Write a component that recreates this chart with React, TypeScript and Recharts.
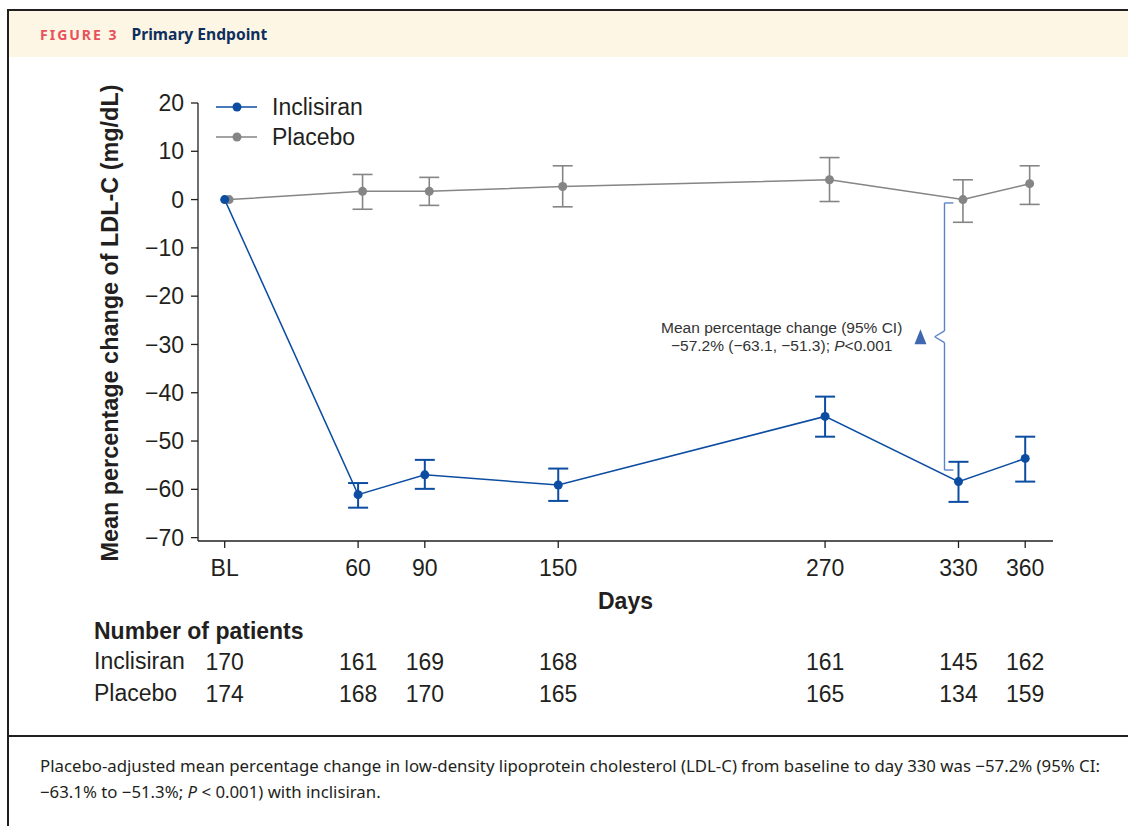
import React from 'react';
import { LineChart, Line, XAxis, YAxis, ErrorBar, ReferenceLine, ReferenceDot, Label } from 'recharts';

// visits (BL = day 0)
const DAYS = [0, 60, 90, 150, 270, 330, 360];
const DAY_LABELS = ['BL', '60', '90', '150', '270', '330', '360'];

// mean % change with 95% CI
const INCLISIRAN_MEAN = [0, -61.1, -57.0, -59.1, -44.9, -58.4, -53.6];
const INCLISIRAN_LOW = [null, -63.8, -59.9, -62.4, -49.1, -62.6, -58.4];
const INCLISIRAN_HIGH = [null, -58.7, -53.9, -55.7, -40.8, -54.3, -49.1];

const PLACEBO_MEAN = [0, 1.7, 1.7, 2.7, 4.1, 0, 3.3];
const PLACEBO_LOW = [null, -2.0, -1.2, -1.5, -0.4, -4.7, -1.0];
const PLACEBO_HIGH = [null, 5.2, 4.6, 7.0, 8.7, 4.1, 7.0];

// number of patients per visit
const INCLISIRAN_N = [170, 161, 169, 168, 161, 145, 162];
const PLACEBO_N = [174, 168, 170, 165, 165, 134, 159];

const Y_TICKS = [-70, -60, -50, -40, -30, -20, -10, 0, 10, 20];

const BLUE = '#0c4da2';
const GRAY = '#858585';
const INK = '#231f20';
const BRACKET = '#5b84c6';
const FONT = '"Liberation Sans", Arial, sans-serif';

const PLACEBO_DODGE = 2; // placebo markers sit slightly right of the visit day
const X_DOMAIN = [-12, 372.5];

const build = (mean: number[], low: (number | null)[], high: (number | null)[], shift: number) =>
  DAYS.map((d, i) => ({
    day: d + shift,
    value: mean[i],
    err: low[i] == null ? null : [mean[i] - (low[i] as number), (high[i] as number) - mean[i]],
  }));

const incData = build(INCLISIRAN_MEAN, INCLISIRAN_LOW, INCLISIRAN_HIGH, 0);
const plaData = build(PLACEBO_MEAN, PLACEBO_LOW, PLACEBO_HIGH, PLACEBO_DODGE);

const minus = (v: number) => String(v).replace('-', '\u2212');

// bracket between the two arms at day 330
const BR_X = 323.7;
const BR_HOOK = 327.7;
const BR_NOTCH = 319.3;
const BR_TOP = -0.7;
const BR_BOTTOM = -56.0;
const BR_MID = -28.4;

const tickStyle = { fontSize: 23, fill: INK, fontFamily: FONT };

const Annotation = (props: any) => {
  const { cx, cy } = props;
  return (
    <g fontFamily={FONT} fontSize={15.5} fill="#333" textAnchor="middle">
      <text x={cx} y={cy - 4}>Mean percentage change (95% CI)</text>
      <text x={cx} y={cy + 14}>
        {'\u221257.2% (\u221263.1, \u221251.3); '}
        <tspan fontStyle="italic">P</tspan>
        {'<0.001'}
      </text>
    </g>
  );
};

const Triangle = (props: any) => {
  const { cx, cy } = props;
  return <path d={`M${cx - 6},${cy + 7.5} L${cx},${cy - 7.5} L${cx + 6},${cy + 7.5} Z`} fill="#3f68b1" />;
};

const YTitle = (props: any) => {
  const vb = props.viewBox;
  const x = vb.x + 12;
  const y = vb.y + vb.height / 2 + 1;
  return (
    <text x={x} y={y} transform={`rotate(-90 ${x} ${y})`} textAnchor="middle" dominantBaseline="central"
      fontFamily={FONT} fontSize={23.4} fontWeight="bold" fill={INK}>
      Mean percentage change of LDL-C (mg/dL)
    </text>
  );
};

const LegendRow = ({ color, label, top }: { color: string; label: string; top: number }) => (
  <div style={{ position: 'absolute', left: 216, top, height: 30, display: 'flex', alignItems: 'center' }}>
    <svg width={42} height={12}>
      <line x1={0} y1={6} x2={41} y2={6} stroke={color} strokeWidth={1.5} />
      <circle cx={21} cy={6} r={4.5} fill={color} />
    </svg>
    <span style={{ marginLeft: 14, fontFamily: FONT, fontSize: 23, color: INK }}>{label}</span>
  </div>
);

export default function App() {
  return (
    <div style={{ position: 'absolute', left: 0, top: 0, width: 1128, height: 826, background: '#fff', overflow: 'hidden' }}>
      {/* frame + header */}
      <div style={{ position: 'absolute', left: 7, top: 9, width: 1121, height: 2, background: INK }} />
      <div style={{ position: 'absolute', left: 7, top: 9, width: 2, height: 817, background: INK }} />
      <div style={{ position: 'absolute', left: 9, top: 11, width: 1119, height: 46, background: '#fdf6e4' }} />
      <div style={{ position: 'absolute', left: 40, top: 23, fontFamily: '"Noto Sans", sans-serif', fontWeight: 700, whiteSpace: 'nowrap' }}>
        <span style={{ color: '#e8505b', fontSize: 14, letterSpacing: 2 }}>FIGURE 3</span>
        <span style={{ color: '#0e2f5e', fontSize: 15.6, marginLeft: 13 }}>Primary Endpoint</span>
      </div>

      <div style={{ position: 'absolute', left: 0, top: 0 }}>
        <LineChart width={1128} height={720} margin={{ top: 103, right: 75, left: 98, bottom: 7 }}>
          <XAxis xAxisId={0} type="number" dataKey="day" domain={X_DOMAIN} ticks={DAYS} interval={0}
            allowDataOverflow tickFormatter={(v: number) => DAY_LABELS[DAYS.indexOf(v)]}
            stroke={INK} strokeWidth={1.3} tickSize={7} tickMargin={12} tick={tickStyle} height={108}>
            <Label value="Days" position="insideTop" offset={52}
              style={{ fontSize: 23, fontWeight: 'bold', fill: INK, fontFamily: FONT }} />
          </XAxis>
          <XAxis xAxisId={1} type="number" dataKey="day" domain={X_DOMAIN} ticks={DAYS} interval={0}
            allowDataOverflow tickFormatter={(v: number) => String(INCLISIRAN_N[DAYS.indexOf(v)])}
            axisLine={false} tickLine={false} tickSize={0} tickMargin={5} tick={tickStyle} height={32} />
          <XAxis xAxisId={2} type="number" dataKey="day" domain={X_DOMAIN} ticks={DAYS} interval={0}
            allowDataOverflow tickFormatter={(v: number) => String(PLACEBO_N[DAYS.indexOf(v)])}
            axisLine={false} tickLine={false} tickSize={0} tickMargin={5} tick={tickStyle} height={32} />
          <YAxis type="number" domain={[-70.7, 20]} ticks={Y_TICKS} interval={0} allowDataOverflow width={100}
            tickFormatter={minus} stroke={INK} strokeWidth={1.3} tickSize={7} tickMargin={7} tick={tickStyle}>
            <Label content={YTitle} />
          </YAxis>

          <Line data={plaData} dataKey="value" stroke={GRAY} strokeWidth={1.5} isAnimationActive={false}
            dot={{ r: 4.5, fill: GRAY, stroke: GRAY, strokeWidth: 0 }} activeDot={false}>
            <ErrorBar dataKey="err" direction="y" width={10} stroke={GRAY} strokeWidth={1.6} />
          </Line>
          <Line data={incData} dataKey="value" stroke={BLUE} strokeWidth={1.5} isAnimationActive={false}
            dot={{ r: 4.5, fill: BLUE, stroke: BLUE, strokeWidth: 0 }} activeDot={false}>
            <ErrorBar dataKey="err" direction="y" width={10} stroke={BLUE} strokeWidth={2} />
          </Line>

          <ReferenceLine segment={[{ x: BR_HOOK, y: BR_TOP }, { x: BR_X, y: BR_TOP }]} stroke={BRACKET} strokeWidth={1.4} ifOverflow="visible" />
          <ReferenceLine segment={[{ x: BR_X, y: BR_TOP }, { x: BR_X, y: BR_MID + 1.2 }]} stroke={BRACKET} strokeWidth={1.4} ifOverflow="visible" />
          <ReferenceLine segment={[{ x: BR_X, y: BR_MID + 1.2 }, { x: BR_NOTCH, y: BR_MID }]} stroke={BRACKET} strokeWidth={1.4} ifOverflow="visible" />
          <ReferenceLine segment={[{ x: BR_NOTCH, y: BR_MID }, { x: BR_X, y: BR_MID - 1.2 }]} stroke={BRACKET} strokeWidth={1.4} ifOverflow="visible" />
          <ReferenceLine segment={[{ x: BR_X, y: BR_MID - 1.2 }, { x: BR_X, y: BR_BOTTOM }]} stroke={BRACKET} strokeWidth={1.4} ifOverflow="visible" />
          <ReferenceLine segment={[{ x: BR_X, y: BR_BOTTOM }, { x: BR_HOOK, y: BR_BOTTOM }]} stroke={BRACKET} strokeWidth={1.4} ifOverflow="visible" />
          <ReferenceDot x={312.9} y={BR_MID} r={0} ifOverflow="visible" shape={Triangle} />
          <ReferenceDot x={250.5} y={BR_MID} r={0} ifOverflow="visible" shape={Annotation} />
        </LineChart>
      </div>

      {/* legend */}
      <LegendRow color={BLUE} label="Inclisiran" top={92} />
      <LegendRow color={GRAY} label="Placebo" top={122} />

      {/* patient table row labels */}
      <div style={{ position: 'absolute', left: 94, top: 618, fontFamily: FONT, fontSize: 23, fontWeight: 'bold', color: INK, whiteSpace: 'nowrap' }}>
        Number of patients
      </div>
      <div style={{ position: 'absolute', left: 94, top: 648, fontFamily: FONT, fontSize: 23, color: INK }}>Inclisiran</div>
      <div style={{ position: 'absolute', left: 94, top: 680, fontFamily: FONT, fontSize: 23, color: INK }}>Placebo</div>

      {/* caption */}
      <div style={{ position: 'absolute', left: 7, top: 735, width: 1121, height: 2, background: INK }} />
      <div style={{ position: 'absolute', left: 40, top: 753, fontFamily: '"Noto Sans", sans-serif', fontSize: 16.8, lineHeight: '26px', color: INK, whiteSpace: 'nowrap' }}>
        Placebo-adjusted mean percentage change in low-density lipoprotein cholesterol (LDL-C) from baseline to day 330 was {'\u2212'}57.2% (95% CI:
        <br />
        {'\u2212'}63.1% to {'\u2212'}51.3%; <i>P</i> {'<'} 0.001) with inclisiran.
      </div>
    </div>
  );
}
